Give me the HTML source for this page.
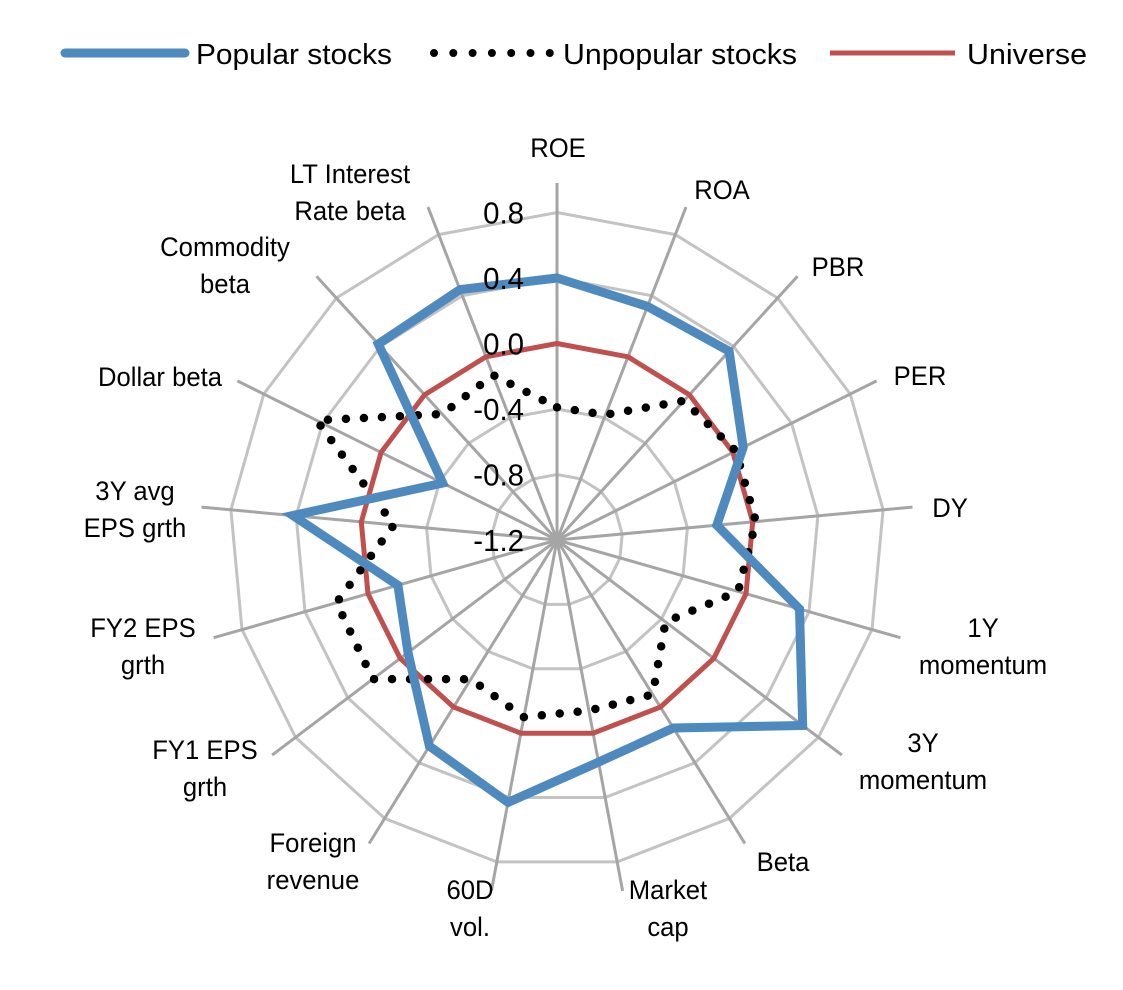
<!DOCTYPE html>
<html><head><meta charset="utf-8"><style>
html,body{margin:0;padding:0;background:#fff;}
svg{display:block;font-family:"Liberation Sans",Arial,sans-serif;}
</style></head><body>
<svg id="c" width="1123" height="990" viewBox="0 0 1123 990" xmlns="http://www.w3.org/2000/svg">
<line x1="65" y1="53" x2="185" y2="53" stroke="#4f8abf" stroke-width="9" stroke-linecap="round"/>
<text x="196" y="64" font-size="29" textLength="196" lengthAdjust="spacingAndGlyphs">Popular stocks</text>
<line x1="434" y1="53" x2="550" y2="53" stroke="#000" stroke-width="8" stroke-linecap="round" stroke-dasharray="0 19.3"/>
<text x="563" y="64" font-size="29" textLength="234" lengthAdjust="spacingAndGlyphs">Unpopular stocks</text>
<line x1="830" y1="53" x2="955" y2="53" stroke="#c0504d" stroke-width="5"/>
<text x="967" y="64" font-size="29" textLength="120" lengthAdjust="spacingAndGlyphs">Universe</text>
<g id="g"></g>
</svg>
<script>
(function(){
var cx=557,cy=540,N=17,k=163.75;
function r(v){return (v+1.2)*k;}
function pt(i,rad){var a=i*2*Math.PI/N;return [cx+rad*Math.sin(a),cy-rad*Math.cos(a)];}
var s='';
[-0.8,-0.4,0,0.4,0.8].forEach(function(v){
 var p=[];for(var i=0;i<N;i++){var q=pt(i,r(v));p.push(q[0].toFixed(1)+','+q[1].toFixed(1));}
 s+='<polygon points="'+p.join(' ')+'" fill="none" stroke="#c3c3c3" stroke-width="3"/>';
});
for(var i=0;i<N;i++){var q=pt(i,357);s+='<line x1="'+cx+'" y1="'+cy+'" x2="'+q[0].toFixed(1)+'" y2="'+q[1].toFixed(1)+'" stroke="#a5a5a5" stroke-width="3"/>';}
function poly(vals,attrs){var p=vals.map(function(v,i){var q=pt(i,r(v));return q[0].toFixed(1)+','+q[1].toFixed(1);});
 return '<polygon points="'+p.join(' ')+'" fill="none" '+attrs+'/>';}
var uni=[0,0,0,0,0,0,0,0,0,0,0,0,0,0,0,0,0];
var pop=[0.4,0.33,0.36,0.07,-0.22,0.34,0.68,0.15,0.18,0.43,0.28,-0.06,-0.19,0.42,-0.42,0.42,0.44];
var unp=[-0.39,-0.38,-0.05,0.02,0.02,-0.05,-0.37,-0.09,-0.14,-0.1,-0.2,0.21,0.2,-0.2,0.44,-0.16,-0.12];
s+=poly(uni,'stroke="#c0504d" stroke-width="5" stroke-linejoin="round"');
s+=poly(unp,'stroke="#000" stroke-width="8.5" stroke-linecap="round" stroke-dasharray="0 18"');
s+=poly(pop,'stroke="#4f8abf" stroke-width="9" stroke-linejoin="miter"');
[["0.8",0.8],["0.4",0.4],["0.0",0],["-0.4",-0.4],["-0.8",-0.8],["-1.2",-1.2]].forEach(function(t){
 var y=cy-r(t[1]);
 s+='<text x="524" y="'+(y+11).toFixed(1)+'" font-size="31" text-anchor="end" transform="translate(524 0) scale(0.95 1) translate(-524 0)">'+t[0]+'</text>';
});
var labs=[[558,148,["ROE"]],[722,190,["ROA"]],[838,267,["PBR"]],[920,376,["PER"]],[950,508,["DY"]],
[983,628,["1Y","momentum"]],[923,743,["3Y","momentum"]],[783,862,["Beta"]],[668,890,["Market","cap"]],
[470,890,["60D","vol."]],[313,843,["Foreign","revenue"]],[205,750,["FY1 EPS","grth"]],[143,628,["FY2 EPS","grth"]],
[135,491,["3Y avg","EPS grth"]],[160,377,["Dollar beta"]],[225,247,["Commodity","beta"]],[350,174,["LT Interest","Rate beta"]]];
labs.forEach(function(l){
 l[2].forEach(function(t,j){var y=l[1]+j*37+9;
 s+='<text x="0" y="0" font-size="27" text-anchor="middle" transform="translate('+l[0]+' '+y+') scale(0.95 1)">'+t+'</text>';});
});
document.getElementById('g').innerHTML=s;
})();
</script>
</body></html>
